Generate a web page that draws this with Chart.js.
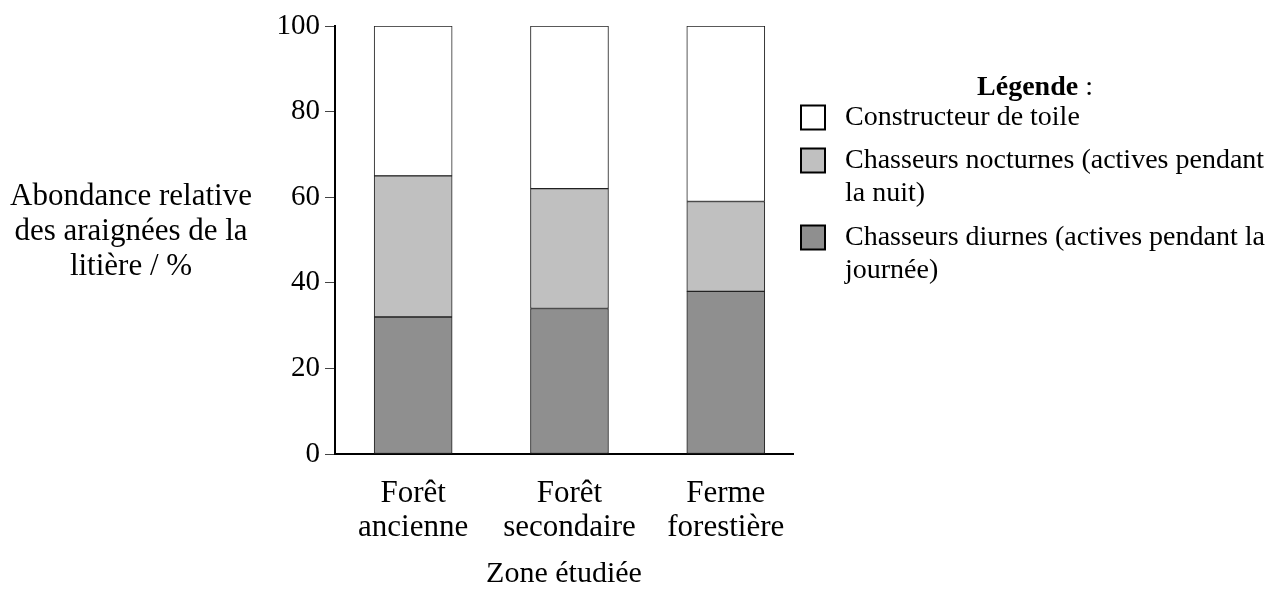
<!DOCTYPE html>
<html><head><meta charset="utf-8">
<script src="https://cdn.jsdelivr.net/npm/chart.js@4.4.1/dist/chart.umd.min.js"></script>
<style>html,body{margin:0;padding:0;background:#fff}#wrap{width:1275px;height:592px;position:relative}</style>
</head><body><div id="wrap"><canvas id="c" width="1275" height="592"></canvas></div>
<script>
const categories = [["Forêt","ancienne"],["Forêt","secondaire"],["Ferme","forestière"]];
const diurnes = [32,34,38];
const nocturnes = [33,28,21];
const toile = [35,38,41];
const yTickValues = [0,20,40,60,80,100];
const seriesNames = [["Constructeur de toile"],["Chasseurs nocturnes (actives pendant","la nuit)"],["Chasseurs diurnes (actives pendant la","journée)"]];
const yTitleLines = ["Abondance relative","des araignées de la","litière / %"];
const xTitleText = "Zone étudiée";
const legendTitle = "Légende";

const FONT = "'Liberation Serif', 'Times New Roman', serif";
const FS = 28;

const toPts = arr => arr.map((v,i)=>({x:i,y:v}));

const sideText = {
  id:'sideText',
  afterDraw(chart){
    const ctx = chart.ctx;
    ctx.save();
    ctx.fillStyle = '#000';
    ctx.font = "31px " + FONT;
    ctx.textAlign = 'center';
    ctx.textBaseline = 'middle';
    yTitleLines.forEach((t,i)=>ctx.fillText(t,131,197+i*35));
    ctx.font = "bold " + FS + "px " + FONT;
    const w1 = ctx.measureText(legendTitle).width;
    ctx.font = FS + "px " + FONT;
    const w2 = ctx.measureText(" :").width;
    let lx = 1035 - (w1+w2)/2;
    ctx.textAlign='left';
    ctx.font = "bold " + FS + "px " + FONT;
    ctx.fillText(legendTitle, lx, 87.5);
    ctx.font = FS + "px " + FONT;
    ctx.fillText(" :", lx+w1, 87.5);
    const ds = chart.data.datasets;
    const order = [2,1,0];
    const ys = [117.5,160.5,237.5];
    order.forEach((di,k)=>{
      const d = ds[di];
      const y = ys[k];
      ctx.fillStyle = d.backgroundColor;
      ctx.fillRect(801,y-12,24,24);
      ctx.strokeStyle = '#000';
      ctx.lineWidth = 2;
      ctx.strokeRect(801,y-12,24,24);
      ctx.fillStyle = '#000';
      const lines = Array.isArray(d.label)? d.label : [d.label];
      lines.forEach((t,j)=>ctx.fillText(t,845,y+j*33));
    });
    ctx.restore();
  }
};

new Chart(document.getElementById('c'),{
  type:'bar',
  data:{
    datasets:[
      {label:seriesNames[2], data:toPts(diurnes), backgroundColor:'#8f8f8f'},
      {label:seriesNames[1], data:toPts(nocturnes), backgroundColor:'#c0c0c0'},
      {label:seriesNames[0], data:toPts(toile), backgroundColor:'#ffffff'}
    ]
  },
  options:{
    responsive:false,
    animation:false,
    devicePixelRatio:1,
    layout:{padding:{left:0,right:482,top:26,bottom:0}},
    datasets:{bar:{barThickness:78,borderColor:'#222',borderWidth:1,borderSkipped:false}},
    plugins:{legend:{display:false},tooltip:{enabled:false}},
    scales:{
      x:{
        type:'linear', stacked:true, offset:false, min:-0.5, max:2.43, bounds:'ticks',
        afterDataLimits:s=>{s.min=-0.5; s.max=2.43;},
        afterBuildTicks:s=>{s.ticks = categories.map((c,i)=>({value:i}));},
        afterFit:s=>{s.height = 592-454;},
        grid:{display:true,drawOnChartArea:false,drawTicks:false},
        border:{display:true,color:'#000',width:2},
        ticks:{callback:v=>categories[v],color:'#000',padding:23,maxRotation:0,autoSkip:false,font:{family:FONT,size:31,lineHeight:1.1}},
        title:{display:true,text:xTitleText,color:'#000',font:{family:FONT,size:30,lineHeight:1.1},padding:{top:0,bottom:1}}
      },
      y:{
        stacked:true, min:0, max:100,
        afterBuildTicks:s=>{s.ticks = yTickValues.map(v=>({value:v}));},
        afterFit:s=>{s.width = 335;},
        grid:{display:true,drawOnChartArea:false,drawTicks:true,tickLength:10,color:'#444',lineWidth:1},
        border:{display:true,color:'#000',width:2},
        ticks:{color:'#000',padding:5,font:{family:FONT,size:29}}
      }
    }
  },
  plugins:[sideText]
});
</script></body></html>
